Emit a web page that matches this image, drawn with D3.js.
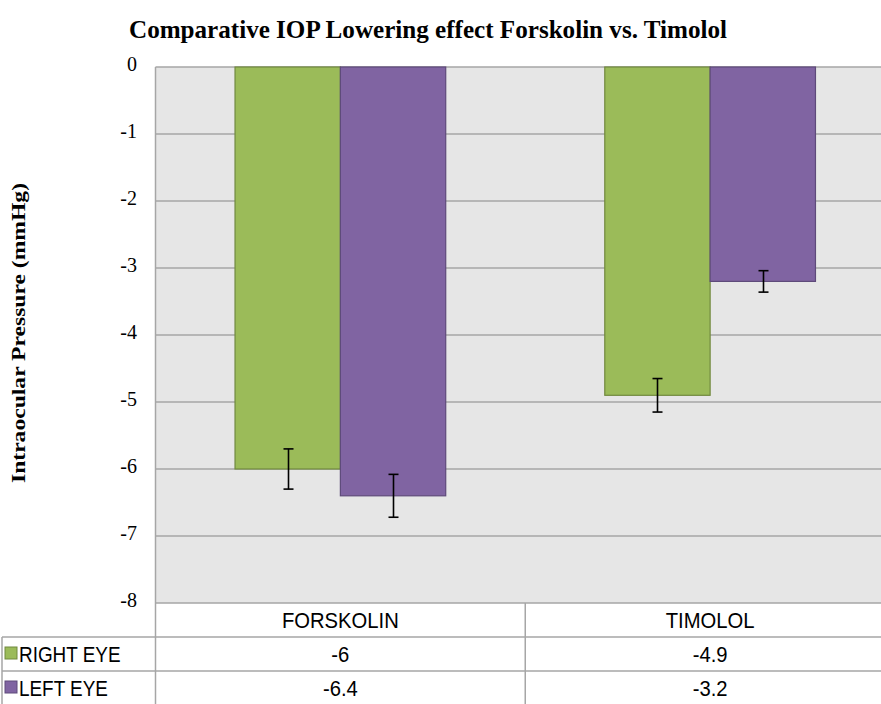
<!DOCTYPE html>
<html><head><meta charset="utf-8">
<script src="https://cdn.jsdelivr.net/npm/d3@7"></script>
<style>body{margin:0;background:#fff}svg{display:block}</style>
</head><body>
<script>
const categories = ["FORSKOLIN", "TIMOLOL"];
const seriesNames = ["RIGHT EYE", "LEFT EYE"];
const rightEye = [-6, -4.9];
const leftEye = [-6.4, -3.2];
const rightErr = [0.3, 0.25];
const leftErr = [0.32, 0.16];
const yTicks = [0, -1, -2, -3, -4, -5, -6, -7, -8];
const colors = ["#9BBB59", "#8064A2"];
const strokes = ["#71893F", "#5E4A7A"];

(function () {
const W = 881, H = 704;
const svg = d3.select("body").append("svg").attr("width", W).attr("height", H);
const pL = 155.5, pR = 895, pT = 67, pB = 603;

const x0 = d3.scaleBand().domain(categories).range([pL, pR]).paddingInner(0).paddingOuter(0);
const x1 = d3.scaleBand().domain(seriesNames).range([0, x0.bandwidth()]).paddingInner(0).paddingOuter(0.755);
const y = d3.scaleLinear().domain([0, -8]).range([pT, pB]);

svg.append("rect").attr("x", pL).attr("y", pT).attr("width", pR - pL).attr("height", pB - pT).attr("fill", "#E6E6E6");

svg.append("g").selectAll("line").data(yTicks).join("line")
  .attr("x1", pL).attr("x2", pR)
  .attr("y1", d => y(d)).attr("y2", d => y(d))
  .attr("stroke", "#A6A6A6").attr("stroke-width", 1.5);

svg.append("line").attr("x1", pL).attr("x2", pL).attr("y1", pT).attr("y2", pB)
  .attr("stroke", "#A6A6A6").attr("stroke-width", 1.5);

const yAxis = d3.axisLeft(y).tickValues(yTicks).tickSize(0).tickPadding(0).tickFormat(d => String(d));
const ga = svg.append("g").attr("transform", `translate(${137},0)`).call(yAxis);
ga.select(".domain").remove();
ga.selectAll("text").attr("font-family", "'Liberation Serif', 'Times New Roman', serif")
  .attr("font-size", 20).attr("fill", "#000").attr("dy", "0.15em");

const seriesData = [rightEye, leftEye];
const errData = [rightErr, leftErr];
seriesNames.forEach((s, si) => {
  const g = svg.append("g");
  g.selectAll("rect").data(categories).join("rect")
    .attr("x", c => x0(c) + x1(s))
    .attr("y", y(0))
    .attr("width", x1.bandwidth())
    .attr("height", (c, i) => y(seriesData[si][i]) - y(0))
    .attr("fill", colors[si]).attr("stroke", strokes[si]).attr("stroke-width", 1.2);
});
seriesNames.forEach((s, si) => {
  categories.forEach((c, i) => {
    const cx = Math.round(x0(c) + x1(s) + x1.bandwidth() / 2) + 0.5;
    const v = seriesData[si][i], e = errData[si][i];
    const g = svg.append("g").attr("stroke", "#000").attr("stroke-width", 1.6);
    g.append("line").attr("x1", cx).attr("x2", cx).attr("y1", y(v + e)).attr("y2", y(v - e));
    g.append("line").attr("x1", cx - 5).attr("x2", cx + 5).attr("y1", y(v + e)).attr("y2", y(v + e));
    g.append("line").attr("x1", cx - 5).attr("x2", cx + 5).attr("y1", y(v - e)).attr("y2", y(v - e));
  });
});

svg.append("text").attr("x", 428).attr("y", 38).attr("text-anchor", "middle")
  .attr("font-family", "'Liberation Serif', 'Times New Roman', serif").attr("font-weight", "bold")
  .attr("font-size", 26).attr("textLength", 598).attr("lengthAdjust", "spacingAndGlyphs")
  .text("Comparative IOP Lowering effect Forskolin vs. Timolol");

svg.append("text").attr("transform", "translate(25,333) rotate(-90)").attr("text-anchor", "middle")
  .attr("font-family", "'Liberation Serif', 'Times New Roman', serif").attr("font-weight", "bold")
  .attr("font-size", 19).attr("textLength", 300).attr("lengthAdjust", "spacingAndGlyphs")
  .text("Intraocular Pressure (mmHg)");

const rowH = 34;
const tRows = [pB, pB + rowH, pB + 2 * rowH, H];
const tg = svg.append("g").attr("stroke", "#A6A6A6").attr("stroke-width", 1.5);
tg.append("line").attr("x1", 2).attr("x2", pR).attr("y1", tRows[1]).attr("y2", tRows[1]);
tg.append("line").attr("x1", 2).attr("x2", pR).attr("y1", tRows[2]).attr("y2", tRows[2]);
tg.append("line").attr("x1", 2).attr("x2", 2).attr("y1", tRows[1]).attr("y2", H);
[pL, x0(categories[1])].forEach(xx => {
  tg.append("line").attr("x1", xx).attr("x2", xx).attr("y1", pB).attr("y2", H);
});

const sansFont = "'Liberation Sans', Arial, sans-serif";
const sq = cx => `translate(${cx},0) scale(0.92,1) translate(${-cx},0)`;
svg.append("g").selectAll("text").data(categories).join("text")
  .attr("x", c => x0(c) + x0.bandwidth() / 2).attr("y", tRows[0] + 25)
  .attr("text-anchor", "middle").attr("font-family", sansFont).attr("font-size", 22)
  .attr("transform", c => sq(x0(c) + x0.bandwidth() / 2))
  .text(c => c);

seriesNames.forEach((s, si) => {
  const yy = tRows[si + 1];
  svg.append("rect").attr("x", 5).attr("y", yy + 10).attr("width", 12).attr("height", 12)
    .attr("fill", colors[si]).attr("stroke", strokes[si]).attr("stroke-width", 1);
  svg.append("text").attr("x", 19).attr("y", yy + 25).attr("font-family", sansFont).attr("font-size", 22)
    .attr("transform", `translate(19,0) scale(0.86,1) translate(-19,0)`)
    .text(s);
  svg.append("g").selectAll("text").data(categories).join("text")
    .attr("x", c => x0(c) + x0.bandwidth() / 2).attr("y", yy + 25)
    .attr("text-anchor", "middle").attr("font-family", sansFont).attr("font-size", 22)
    .attr("transform", c => sq(x0(c) + x0.bandwidth() / 2))
    .text((c, i) => seriesData[si][i]);
});
})();
</script>
</body></html>
